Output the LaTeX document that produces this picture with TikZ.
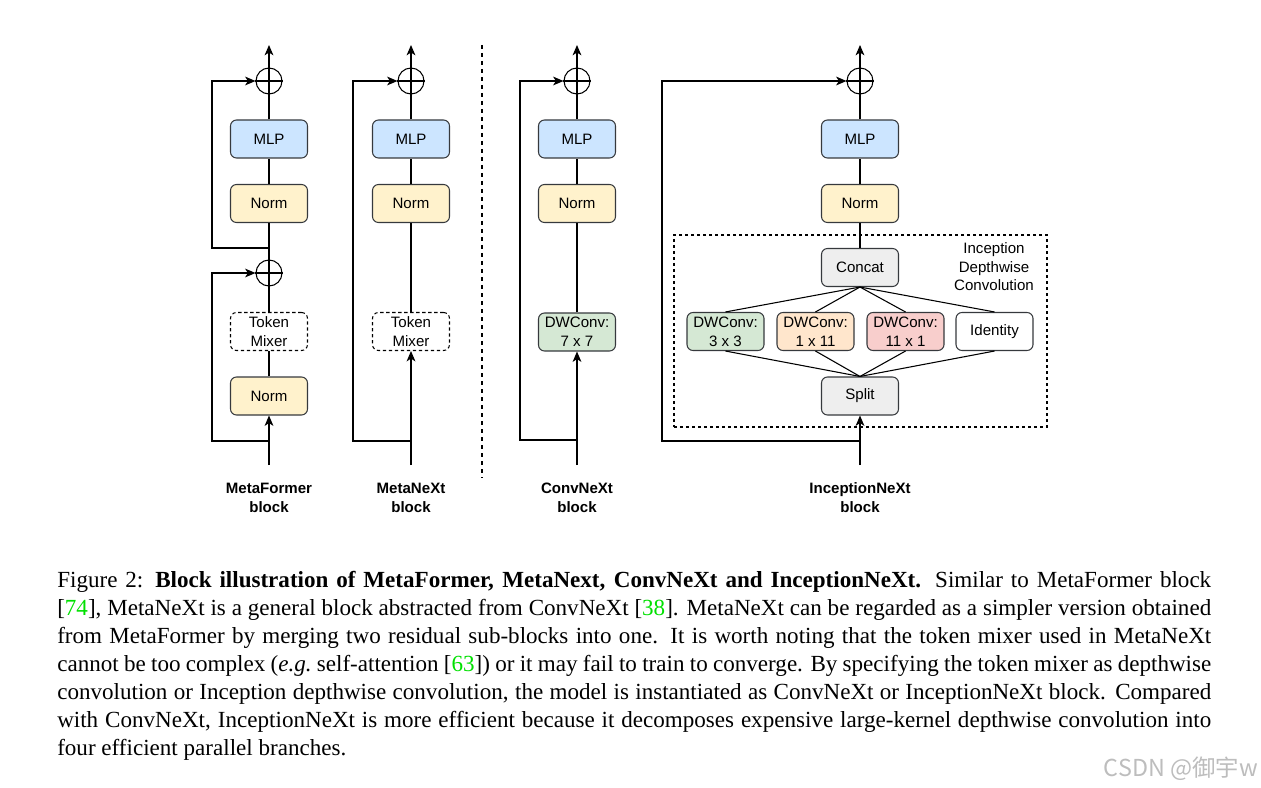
\documentclass[tikz,border=0pt]{standalone}
\usepackage{fontspec}
\setmainfont{Liberation Serif}
\setsansfont{Liberation Sans}
\newfontfamily\cjkfont{Noto Sans CJK SC}
\usetikzlibrary{arrows.meta}
\definecolor{mlpfill}{HTML}{CCE5FF}
\definecolor{normfill}{HTML}{FFF2CC}
\definecolor{greenfill}{HTML}{D5E8D4}
\definecolor{orangefill}{HTML}{FFE6CC}
\definecolor{redfill}{HTML}{F8CECC}
\definecolor{grayfill}{HTML}{EEEEEE}
\definecolor{boxline}{HTML}{36393D}
\definecolor{citegreen}{HTML}{00E000}
\definecolor{wmgray}{HTML}{BDBDBD}
\newcommand{\cit}[1]{[\textcolor{citegreen}{#1}]}
\begin{document}
\begin{tikzpicture}[x=0.75pt,y=-0.75pt,
  boxtext/.style={font=\sffamily\fontsize{11.3}{14.2}\selectfont},
  blk/.style={boxtext, draw=boxline, line width=0.8pt, rounded corners=4.5pt,
    minimum width=57.75pt, minimum height=28.5pt, inner sep=0pt, align=center},
  mixer/.style={boxtext, draw=black, line width=0.8pt, rounded corners=4.5pt,
    dash pattern=on 2.5pt off 2pt, minimum width=57.75pt, minimum height=28.5pt,
    inner sep=0pt, align=center},
  plusnode/.style={circle, draw=black, fill=white, line width=0.8pt,
    minimum size=19.5pt, inner sep=0pt},
  ln/.style={draw=black, line width=0.8pt},
  arr/.style={ln, -{Stealth[length=7.8pt,width=6.6pt,inset=2.2pt]}},
  lbl/.style={font=\sffamily\bfseries\fontsize{11.3}{14.25}\selectfont, align=center},
  capline/.style={anchor=base west, inner sep=0pt, font=\fontsize{17.3}{21}\selectfont},
]
\useasboundingbox (0,0) rectangle (1261,788);

% ---------------- MetaFormer ----------------
\node[plusnode] (plusA1) at (269,81) {};
\node[blk, fill=mlpfill] (mlpA) at (269,139) {MLP};
\node[blk, fill=normfill] (normA2) at (269,203.5) {Norm};
\node[plusnode] (plusA2) at (269,273) {};
\node[mixer] (mixA) at (269,331.5) {Token\\Mixer};
\node[blk, fill=normfill] (normA1) at (269,396) {Norm};
\coordinate (inA) at (269,465);
\coordinate (outA) at (269,45);
\coordinate (resA1) at (269,441);
\coordinate (resA2) at (269,248);
\draw[arr] (inA) -- (normA1);
\draw[ln] (normA1) -- (mixA);
\draw[ln] (mixA) -- (plusA2);
\draw[ln] (plusA2) -- (normA2);
\draw[ln] (normA2) -- (mlpA);
\draw[ln] (mlpA) -- (plusA1);
\draw[arr] (plusA1) -- (outA);
\draw[arr] (resA1) -- ++(-57,0) |- (plusA2);
\draw[arr] (resA2) -- ++(-57,0) |- (plusA1);
\draw[ln] (plusA1.north) -- (plusA1.south) (plusA1.west) -- (plusA1.east);
\draw[ln] (plusA2.north) -- (plusA2.south) (plusA2.west) -- (plusA2.east);
\node[lbl] (labA) at (269,498) {MetaFormer\\block};

% ---------------- MetaNeXt ----------------
\node[plusnode] (plusB) at (411,81) {};
\node[blk, fill=mlpfill] (mlpB) at (411,139) {MLP};
\node[blk, fill=normfill] (normB) at (411,203.5) {Norm};
\node[mixer] (mixB) at (411,331.5) {Token\\Mixer};
\coordinate (inB) at (411,465);
\coordinate (outB) at (411,45);
\coordinate (resB) at (411,441);
\draw[arr] (inB) -- (mixB);
\draw[ln] (mixB) -- (normB);
\draw[ln] (normB) -- (mlpB);
\draw[ln] (mlpB) -- (plusB);
\draw[arr] (plusB) -- (outB);
\draw[arr] (resB) -- ++(-58,0) |- (plusB);
\draw[ln] (plusB.north) -- (plusB.south) (plusB.west) -- (plusB.east);
\node[lbl] (labB) at (411,498) {MetaNeXt\\block};

% ---------------- separator ----------------
\coordinate (sepT) at (482,45);
\coordinate (sepB) at (482,478);
\draw[line width=0.8pt, dash pattern=on 3pt off 3pt] (sepT) -- (sepB);

% ---------------- ConvNeXt ----------------
\node[plusnode] (plusC) at (577,81) {};
\node[blk, fill=mlpfill] (mlpC) at (577,139) {MLP};
\node[blk, fill=normfill] (normC) at (577,203.5) {Norm};
\node[blk, fill=greenfill] (dwC) at (577,332) {DWConv:\\7 x 7};
\coordinate (inC) at (577,465);
\coordinate (outC) at (577,45);
\coordinate (resC) at (577,440);
\draw[arr] (inC) -- (dwC);
\draw[ln] (dwC) -- (normC);
\draw[ln] (normC) -- (mlpC);
\draw[ln] (mlpC) -- (plusC);
\draw[arr] (plusC) -- (outC);
\draw[arr] (resC) -- ++(-57,0) |- (plusC);
\draw[ln] (plusC.north) -- (plusC.south) (plusC.west) -- (plusC.east);
\node[lbl] (labC) at (577,498) {ConvNeXt\\block};

% ---------------- InceptionNeXt ----------------
\node[draw=black, line width=0.8pt, dash pattern=on 2.5pt off 2pt,
  minimum width=279.75pt, minimum height=144pt, inner sep=0pt] (idcBox) at (860.5,331) {};
\node[boxtext, align=center, inner sep=0pt, font=\sffamily\fontsize{11.3}{13.9}\selectfont]
  (idcLabel) at (994,267) {Inception\\Depthwise\\Convolution};
\node[plusnode] (plusD) at (860,81) {};
\node[blk, fill=mlpfill] (mlpD) at (860,139) {MLP};
\node[blk, fill=normfill] (normD) at (860,203.5) {Norm};
\node[blk, fill=grayfill] (concat) at (860,267.5) {Concat};
\node[blk, fill=greenfill] (dw33) at (725.5,331.5) {DWConv:\\3 x 3};
\node[blk, fill=orangefill] (dw111) at (815.5,331.5) {DWConv:\\1 x 11};
\node[blk, fill=redfill] (dw1111) at (905.5,331.5) {DWConv:\\11 x 1};
\node[blk, fill=white] (ident) at (994.5,331.5) {Identity};
\node[blk, fill=grayfill] (split) at (860,396) {Split};
\coordinate (inD) at (860,465);
\coordinate (outD) at (860,45);
\coordinate (resD) at (860,441);
\draw[arr] (inD) -- (split);
\foreach \b in {dw33,dw111,dw1111,ident} {
  \draw[ln] (split.north) -- (\b.south);
  \draw[ln] (\b.north) -- (concat.south);
}
\draw[ln] (concat) -- (normD);
\draw[ln] (normD) -- (mlpD);
\draw[ln] (mlpD) -- (plusD);
\draw[arr] (plusD) -- (outD);
\draw[arr] (resD) -- ++(-198,0) |- (plusD);
\draw[ln] (plusD.north) -- (plusD.south) (plusD.west) -- (plusD.east);
\node[lbl] (labD) at (860,498) {InceptionNeXt\\block};

% ---------------- caption ----------------
\node[capline] (cap1) at (57,587) {\makebox[865.5pt][s]{Figure 2: \textbf{Block illustration of MetaFormer, MetaNext, ConvNeXt and InceptionNeXt.} Similar to MetaFormer block}};
\node[capline] (cap2) at (57,615) {\makebox[865.5pt][s]{\cit{74}, MetaNeXt is a general block abstracted from ConvNeXt \cit{38}. MetaNeXt can be regarded as a simpler version obtained}};
\node[capline] (cap3) at (57,643) {\makebox[865.5pt][s]{from MetaFormer by merging two residual sub-blocks into one. It is worth noting that the token mixer used in MetaNeXt}};
\node[capline] (cap4) at (57,671) {\makebox[865.5pt][s]{cannot be too complex (\textit{e.g.}\ self-attention \cit{63}) or it may fail to train to converge. By specifying the token mixer as depthwise}};
\node[capline] (cap5) at (57,699) {\makebox[865.5pt][s]{convolution or Inception depthwise convolution, the model is instantiated as ConvNeXt or InceptionNeXt block. Compared}};
\node[capline] (cap6) at (57,727) {\makebox[865.5pt][s]{with ConvNeXt, InceptionNeXt is more efficient because it decomposes expensive large-kernel depthwise convolution into}};
\node[capline] (cap7) at (57,755) {four efficient parallel branches.};

% ---------------- watermark ----------------
\node[anchor=base east, inner sep=0pt, text=wmgray, font=\cjkfont\fontsize{17.5}{18}\selectfont]
  (wm) at (1258,776) {CSDN @御宇w};
\end{tikzpicture}
\end{document}
